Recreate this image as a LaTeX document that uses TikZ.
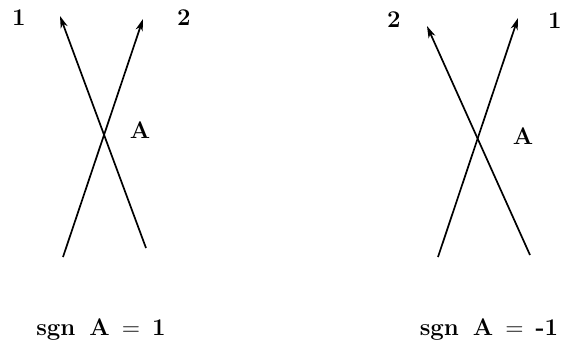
\documentclass[tikz,border=0pt]{standalone}
\usetikzlibrary{arrows.meta}

\begin{document}
\begin{tikzpicture}[x=0.5pt, y=-0.5pt,
  strand/.style={line width=0.85pt, -{Stealth[length=6pt, width=3.6pt, inset=1.8pt]}},
  lbl/.style={font=\fontsize{12}{14}\selectfont\bfseries},
  sgnlbl/.style={lbl, anchor=base}
]
  \useasboundingbox (0,0) rectangle (569,343);
  % left crossing, sgn A = 1
  \coordinate (pl1) at (146,248);
  \coordinate (ql1) at (60,16);
  \coordinate (pl2) at (63,257);
  \coordinate (ql2) at (143,19);
  \draw[strand] (pl1) -- (ql1);
  \draw[strand] (pl2) -- (ql2);
  \node[lbl] (nl1) at (19,18) {1};
  \node[lbl] (nl2) at (184,18) {2};
  \node[lbl] (al) at (140,130) {A};
  \node[sgnlbl] (sl) at (101,335) {sgn\hspace{7pt}A\hspace{6pt}$\mathbf{=}$\hspace{6pt}1};
  % right crossing, sgn A = -1
  \coordinate (pr1) at (438,257);
  \coordinate (qr1) at (518,18);
  \coordinate (pr2) at (530,255);
  \coordinate (qr2) at (427,26);
  \draw[strand] (pr1) -- (qr1);
  \draw[strand] (pr2) -- (qr2);
  \node[lbl] (nr1) at (555,21) {1};
  \node[lbl] (nr2) at (394,20) {2};
  \node[lbl] (ar) at (523,136) {A};
  \node[sgnlbl] (sr) at (489,335) {sgn\hspace{7pt}A\hspace{6pt}$\mathbf{=}$\hspace{6pt}-1};
\end{tikzpicture}
\end{document}
